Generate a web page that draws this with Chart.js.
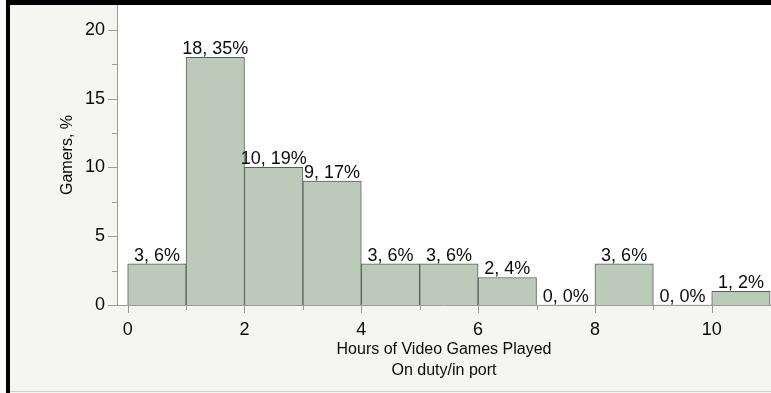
<!DOCTYPE html>
<html>
<head>
<meta charset="utf-8">
<script src="https://cdn.jsdelivr.net/npm/chart.js@4.4.1/dist/chart.umd.min.js"></script>
<style>
  html, body { margin: 0; padding: 0; background: #fafafa; }
  #wrap { position: relative; width: 771px; height: 393px; background: #f5f5f1; overflow: hidden; }
  #chart { position: absolute; left: 0; top: 0; }
  .bar { position: absolute; background: #000; }
  #foot { position: absolute; left: 10px; right: 0; top: 391px; height: 1px; background: #d0d0cc; }
</style>
</head>
<body>
<div id="wrap">
  <canvas id="chart" width="771" height="393"></canvas>
  <div id="foot"></div>
  <div class="bar" style="left:0;top:0;width:771px;height:5px"></div>
  <div class="bar" style="left:0;top:0;width:6px;height:393px;background:#fafafa"></div>
  <div class="bar" style="left:6px;top:0;width:4px;height:393px"></div>
</div>
<script>
// hours bins (left edge of each 1-hour bin) and number of gamers per bin
const binStarts = [0, 1, 2, 3, 4, 5, 6, 7, 8, 9, 10];
const gamers = [3, 18, 10, 9, 3, 3, 2, 0, 3, 0, 1];
const xTicks = [0, 2, 4, 6, 8, 10];
const yTicks = [0, 5, 10, 15, 20];

const total = gamers.reduce((a, b) => a + b, 0);
const FONT = "'Liberation Sans', Arial, Helvetica, sans-serif";
const axisColor = '#9a9a9a';
const textColor = '#0a0a0a';

// white plot area, tick marks and bar labels
const extras = {
  id: 'extras',
  beforeDraw(chart) {
    const { ctx, chartArea: a } = chart;
    ctx.save();
    ctx.fillStyle = '#ffffff';
    ctx.fillRect(a.left, a.top, a.right - a.left, a.bottom - a.top);
    ctx.restore();
  },
  afterDraw(chart) {
    const { ctx, chartArea: a } = chart;
    const xs = chart.scales.x, ys = chart.scales.y;
    ctx.save();
    ctx.strokeStyle = axisColor;
    ctx.lineWidth = 1;
    ctx.beginPath();
    for (let h = 0; h <= 10; h++) {
      const px = Math.round(xs.getPixelForValue(h)) + 0.5;
      const len = h % 2 === 0 ? 8 : 5;
      ctx.moveTo(px, a.bottom);
      ctx.lineTo(px, a.bottom + len);
    }
    for (let v = 0; v <= 20; v += 2.5) {
      const py = Math.round(ys.getPixelForValue(v)) + 0.5;
      const len = v % 5 === 0 ? 9 : 5;
      ctx.moveTo(a.left, py);
      ctx.lineTo(a.left - len, py);
    }
    ctx.stroke();

    // "count, percent%" above every bin
    ctx.fillStyle = textColor;
    ctx.font = '18px ' + FONT;
    ctx.textAlign = 'center';
    ctx.textBaseline = 'alphabetic';
    chart.getDatasetMeta(0).data.forEach((bar, i) => {
      const n = gamers[i];
      const pct = Math.round(n / total * 100);
      ctx.fillText(n + ', ' + pct + '%', bar.x, bar.y - 3);
    });
    ctx.restore();
  }
};

new Chart(document.getElementById('chart'), {
  type: 'bar',
  data: {
    datasets: [{
      data: binStarts.map((h, i) => ({ x: h + 0.5, y: gamers[i] })),
      backgroundColor: '#bccaba',
      borderColor: '#59625a',
      borderWidth: ctx => (ctx.raw && ctx.raw.y === 0 ? 0 : 1),
      borderSkipped: 'bottom',
      barPercentage: 1,
      categoryPercentage: 1
    }]
  },
  options: {
    responsive: false,
    animation: false,
    events: [],
    layout: { padding: { top: 5, left: 0, right: 0, bottom: 0 } },
    plugins: { legend: { display: false }, tooltip: { enabled: false } },
    scales: {
      x: {
        type: 'linear',
        offset: false,
        min: -0.183,
        max: 11.015,
        afterFit: s => { s.height = 88; s.paddingLeft = 0; s.paddingRight = 0; },
        afterBuildTicks: s => { s.ticks = xTicks.map(v => ({ value: v })); },
        grid: { display: false, drawTicks: false },
        border: { display: true, color: axisColor },
        ticks: { padding: 14, color: textColor, font: { family: FONT, size: 18 }, maxRotation: 0 },
        title: {
          display: true,
          text: ['Hours of Video Games Played', 'On duty/in port'],
          color: textColor,
          font: { family: FONT, size: 16, lineHeight: 1.3 },
          padding: { top: 0, bottom: 12 }
        }
      },
      y: {
        min: 0,
        max: 21.8,
        afterFit: s => { s.width = 117; s.paddingTop = 0; s.paddingBottom = 0; },
        afterBuildTicks: s => { s.ticks = yTicks.map(v => ({ value: v })); },
        grid: { display: false, drawTicks: false },
        border: { display: true, color: axisColor },
        ticks: { padding: 12, color: textColor, font: { family: FONT, size: 18 } },
        title: {
          display: true,
          text: 'Gamers, %',
          color: textColor,
          font: { family: FONT, size: 16 },
          padding: { top: 58, bottom: 0 }
        }
      }
    }
  },
  plugins: [extras]
});
</script>
</body>
</html>
